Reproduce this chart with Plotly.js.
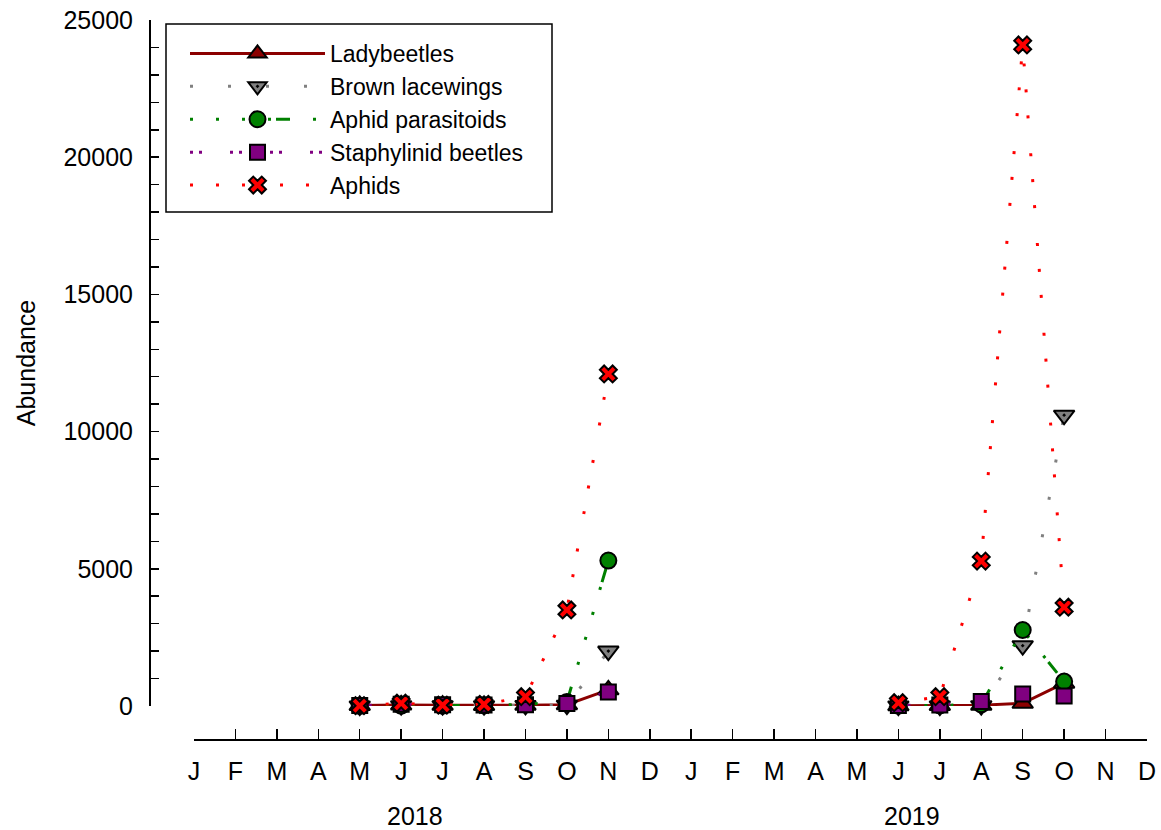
<!DOCTYPE html>
<html>
<head>
<meta charset="utf-8">
<script src="https://cdn.plot.ly/plotly-3.0.1.min.js"></script>
<style>html,body{margin:0;padding:0;background:#fff;}#chart{width:1161px;height:830px;}</style>
</head>
<body>
<div id="chart"></div>
<script>
// Month index: 0 = January 2018 ... 23 = December 2019
const monthLetters = ["J","F","M","A","M","J","J","A","S","O","N","D","J","F","M","A","M","J","J","A","S","O","N","D"];
const years = ["2018", "2019"];
const months2018 = [4, 5, 6, 7, 8, 9, 10];   // May..Nov 2018
const months2019 = [17, 18, 19, 20, 21];     // Jun..Oct 2019

const ladybeetles2018 = [20, 40, 30, 20, 30, 50, 590];
const ladybeetles2019 = [10, 20, 30, 100, 830];
const lacewings2018 = [0, 10, 10, 10, 20, 30, 2000];
const lacewings2019 = [0, 0, 10, 2200, 10600];
const parasitoids2018 = [0, 10, 10, 20, 60, 150, 5300];
const parasitoids2019 = [10, 20, 60, 2770, 890];
const staphylinid2018 = [20, 60, 50, 40, 50, 90, 510];
const staphylinid2019 = [20, 40, 160, 440, 365];
const aphids2018 = [10, 100, 30, 60, 340, 3500, 12100];
const aphids2019 = [120, 340, 5280, 24090, 3600];

const seriesNames = ["Ladybeetles", "Brown lacewings", "Aphid parasitoids", "Staphylinid beetles", "Aphids"];

const xs = months2018.concat([null], months2019);
function join(a, b) { return a.concat([null], b); }

const FONT = "Liberation Sans, Arial, sans-serif";
const FS = 25;

const styles = [
  {color: "#8B0000", dash: "solid", symbol: "triangle-up", size: 18},
  {color: "#808080", dash: "3px,35px", symbol: "triangle-down-dot", size: 18},
  {color: "#008000", dash: "3px,23px,3px,23px,3px,23px,3px,5px,14px,23px", symbol: "circle", size: 16},
  {color: "#800080", dash: "3px,6px,3px,28px", symbol: "square", size: 15},
  {color: "#FF0000", dash: "3px,23px,3px,23px,3px,35px", symbol: "x", size: 15}
];
const values = [
  join(ladybeetles2018, ladybeetles2019),
  join(lacewings2018, lacewings2019),
  join(parasitoids2018, parasitoids2019),
  join(staphylinid2018, staphylinid2019),
  join(aphids2018, aphids2019)
];

const traces = seriesNames.map((name, i) => ({
  type: "scatter",
  mode: "lines+markers",
  name: name,
  x: xs,
  y: values[i],
  connectgaps: false,
  cliponaxis: false,
  line: {color: styles[i].color, width: 3, dash: styles[i].dash},
  marker: {symbol: styles[i].symbol, size: styles[i].size, color: styles[i].color,
           line: {color: "#000", width: 2}}
}));

const majorY = [0, 5000, 10000, 15000, 20000, 25000];
const minorY = [];
for (let v = 1000; v < 25000; v += 1000) if (v % 5000 !== 0) minorY.push(v);
const tickIdx = monthLetters.map((_, i) => i);

const layout = {
  width: 1161, height: 830,
  margin: {l: 150, r: 14, t: 20, b: 90},
  paper_bgcolor: "#fff", plot_bgcolor: "rgba(0,0,0,0)",
  font: {family: FONT, size: FS, color: "#000"},
  showlegend: true,
  xaxis: {
    domain: [44/997, 1], range: [0, 23], anchor: "free", position: 0,
    showline: true, linecolor: "#000", linewidth: 2,
    ticks: "inside", ticklen: 10, tickwidth: 1.5, tickcolor: "#000",
    tickmode: "array", tickvals: tickIdx, ticktext: monthLetters,
    ticklabelstandoff: 9,
    showgrid: false, zeroline: false, fixedrange: true,
    tickfont: {family: FONT, size: FS, color: "#000"}
  },
  yaxis: {
    domain: [34/720, 1], range: [0, 25000], anchor: "free", position: 0,
    showline: true, linecolor: "#000", linewidth: 2,
    ticks: "inside", ticklen: 8, tickwidth: 1.5, tickcolor: "#000",
    tickmode: "array", tickvals: majorY, ticktext: majorY.map(String),
    ticklabelstandoff: 11,
    minor: {tickmode: "array", tickvals: minorY, ticks: "inside", ticklen: 8, tickwidth: 1.5, tickcolor: "#000", showgrid: false},
    showgrid: false, zeroline: false, fixedrange: true,
    title: {text: "Abundance", standoff: 20, font: {family: FONT, size: FS, color: "#000"}},
    tickfont: {family: FONT, size: FS, color: "#000"}
  },
  legend: {
    x: (185 - 150) / 997, y: (740 - 32) / 720, xanchor: "left", yanchor: "top",
    bgcolor: "rgba(0,0,0,0)", borderwidth: 0, itemwidth: 135,
    font: {family: FONT, size: 23, color: "#000"}, tracegroupgap: 0
  },
  shapes: [{
    type: "rect", xref: "paper", yref: "paper",
    x0: (166 - 150) / 997, x1: (552 - 150) / 997,
    y0: (740 - 212) / 720, y1: (740 - 24) / 720,
    line: {color: "#000", width: 1.5}, fillcolor: "rgba(0,0,0,0)"
  }],
  annotations: years.map((yr, k) => ({
    text: yr, xref: "x", yref: "paper", x: 5.33 + 12 * k, y: (740 - 816) / 720,
    xanchor: "center", yanchor: "middle", showarrow: false,
    font: {family: FONT, size: FS, color: "#000"}
  }))
};

Plotly.newPlot("chart", traces, layout, {displayModeBar: false, staticPlot: true});
</script>
</body>
</html>
